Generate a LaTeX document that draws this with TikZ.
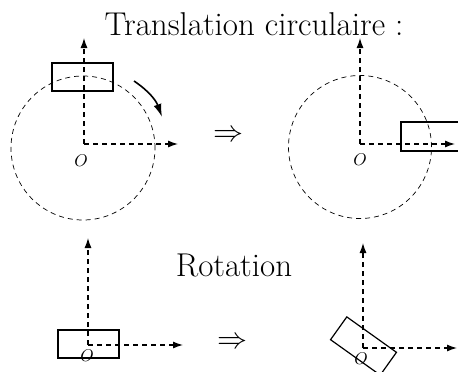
\documentclass[tikz,border=0pt]{standalone}
\usetikzlibrary{arrows.meta}
\begin{document}
\begin{tikzpicture}[x=1pt,y=-1pt,
  axis/.style={line width=1.2pt, dash pattern=on 5pt off 4pt, -{Latex[length=10pt,width=7pt]}},
  orbit/.style={circle, draw, line width=0.7pt, dash pattern=on 5pt off 4pt, inner sep=0pt},
  body/.style={draw, line width=1.2pt, inner sep=0pt, minimum width=61pt, minimum height=28pt},
  lbl/.style={inner sep=0pt},
  big/.style={font=\fontsize{33}{38}\selectfont, inner sep=0pt}]
\useasboundingbox (0,0) rectangle (458,372);

% titles
\node[big, anchor=base] (T1) at (254,35) {Translation circulaire :};
\node[big, anchor=base] (T2) at (234,276) {Rotation};
\node[inner sep=0pt] (I1) at (228.5,135.5) {\scalebox{3}{$\Rightarrow$}};
\node[inner sep=0pt] (I2) at (232,343) {\scalebox{3}{$\Rightarrow$}};

% top left
\coordinate (O1) at (84,144);
\coordinate (Y1) at (84,38);
\coordinate (X1) at (178,144);
\node[orbit, minimum size=144pt] (C1) at (83,148) {};
\node[body] (R1) at (82.5,77) {};
\draw[axis] (O1) -- (Y1);
\draw[axis] (O1) -- (X1);
\node[lbl] (L1) at (81,161) {\scalebox{1.7}{$O$}};
\coordinate (A1) at (134,81);
\coordinate (A2) at (162,117);
\draw[line width=1.6pt, -{Latex[length=13pt,width=8pt]}] (A1) to[bend left=18] (A2);

% top right
\coordinate (O2) at (360,144);
\coordinate (Y2) at (360,38);
\coordinate (X2) at (455,144);
\node[orbit, minimum size=143pt] (C2) at (360,147) {};
\node[body, minimum height=29pt] (R2) at (431.5,136.5) {};
\draw[axis] (O2) -- (Y2);
\draw[axis] (O2) -- (X2);
\node[lbl] (L2) at (360,160) {\scalebox{1.7}{$O$}};

% bottom left
\coordinate (O3) at (88,345);
\coordinate (Y3) at (88,238);
\coordinate (X3) at (183,345);
\node[body] (R3) at (88.5,344) {};
\draw[axis] (O3) -- (Y3);
\draw[axis] (O3) -- (X3);
\node[lbl] (L3) at (87,356) {\scalebox{1.7}{$O$}};

% bottom right
\coordinate (O4) at (363,348);
\coordinate (Y4) at (363,243);
\coordinate (X4) at (457,348);
\node[body, rotate=-35.5] (R4) at (363.5,346) {};
\draw[axis] (O4) -- (Y4);
\draw[axis] (O4) -- (X4);
\node[lbl] (L4) at (361,359) {\scalebox{1.7}{$O$}};
\end{tikzpicture}
\end{document}
